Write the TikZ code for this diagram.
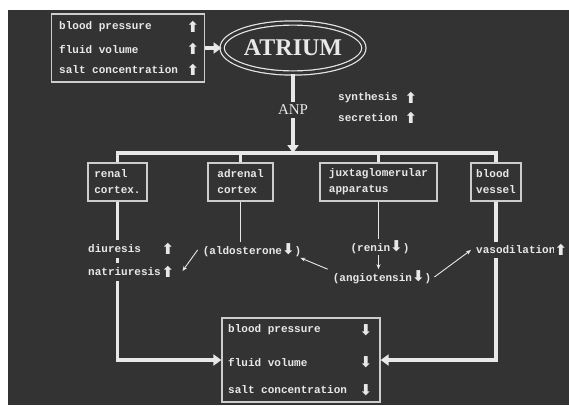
\documentclass[tikz,border=0pt]{standalone}
\usepackage{fontspec}
\setmainfont{Liberation Serif}
\setmonofont{Liberation Mono}
\newfontfamily\arrowfont{DejaVu Sans}
\usetikzlibrary{arrows.meta,shapes.geometric}
\definecolor{slide}{HTML}{333333}
\definecolor{chalk}{HTML}{E8E8E8}
\newcommand{\incr}{{\arrowfont\fontsize{15}{15}\selectfont ⬆}}
\newcommand{\decr}{{\arrowfont\fontsize{15}{15}\selectfont ⬇}}
\tikzset{
  txt/.style={text=chalk,font=\ttfamily\bfseries\fontsize{11}{16}\selectfont,fill=slide,inner sep=1pt},
  organ/.style={draw=chalk!85!slide,line width=1.3pt,text=chalk,align=left,
    font=\ttfamily\bfseries\fontsize{11}{16}\selectfont,minimum height=38},
  flow/.style={draw=chalk,line width=3.5pt},
  link/.style={draw=chalk,line width=0.9pt},
  bigtip/.style={-{Triangle[length=8pt,width=11pt]}},
  smalltip/.style={-{Stealth[length=5pt,width=4pt]}},
}
\begin{document}
\begin{tikzpicture}[x=1pt,y=-1pt]
  \useasboundingbox (0,0) rectangle (569,405);
  \fill[white] (0,0) rectangle (569,405);
  \fill[slide] (8,10) rectangle (569,405);
  % atrium and its inputs
  \node[draw=chalk!85!slide,line width=1.3pt,minimum width=153,minimum height=68] (topbox) at (128,48) {};
  \node[txt,anchor=west] (tbp) at (58,27) {blood pressure};
  \node[txt,anchor=west] (tfv) at (58,49) {fluid volume};
  \node[txt,anchor=west] (tsc) at (58,70) {salt concentration};
  \node[txt] (tbpa) at (193,27) {\incr};
  \node[txt] (tfva) at (193,49) {\incr};
  \node[txt] (tsca) at (193,70) {\incr};
  \node[ellipse,draw=chalk,line width=1.2pt,double=slide,double distance=3pt,
    minimum width=125,minimum height=50,inner sep=1pt,text=chalk,
    font=\bfseries\fontsize{24}{26}\selectfont] (atrium) at (293,48) {ATRIUM};
  \node[text=chalk,font=\fontsize{15}{16}\selectfont] (anp) at (293,110) {ANP};
  \node[txt,anchor=west] (syn) at (337,98) {synthesis};
  \node[txt,anchor=west] (sec) at (337,118) {secretion};
  \node[txt] (syna) at (411,98) {\incr};
  \node[txt] (seca) at (411,118) {\incr};
  % target organs
  \node[organ,minimum width=59] (renal) at (117.5,182) {renal\\cortex.};
  \node[organ,minimum width=65] (adrenal) at (240.5,182) {adrenal\\cortex};
  \node[organ,minimum width=117] (juxta) at (378.5,182) {juxtaglomerular\\apparatus};
  \node[organ,minimum width=50] (vessel) at (496,182) {blood\\vessel};
  \node[draw=chalk!85!slide,line width=1.3pt,minimum width=158,minimum height=84] (botbox) at (301,360) {};
  \coordinate (bar) at (300,153);
  % thick paths
  \draw[flow,bigtip] (topbox.east) -- (atrium.west);
  \draw[flow] (atrium.south) -- (anp.north);
  \draw[flow,bigtip] (anp.south) -- (anp.south |- bar);
  \draw[flow,line join=miter] (renal.north) -- (renal.north |- bar) -- (vessel.north |- bar) -- (vessel.north);
  \draw[flow] (adrenal.north |- bar) -- (adrenal.north);
  \draw[flow] (juxta.north |- bar) -- (juxta.north);
  \draw[flow,bigtip,line join=miter] (renal.south) -- (renal.south |- botbox.west) -- (botbox.west);
  \draw[flow,bigtip,line join=miter] (vessel.south) -- (vessel.south |- botbox.east) -- (botbox.east);
  % effects
  \node[txt,anchor=west,inner ysep=5pt] (diu) at (87,249) {diuresis};
  \node[txt,anchor=west,inner ysep=5pt] (nat) at (87,272) {natriuresis};
  \node[txt] (diua) at (168,249) {\incr};
  \node[txt] (nata) at (168,272) {\incr};
  \node[txt] (aldo) at (252,250) {(aldosterone\decr)};
  \node[txt] (renin) at (380,247) {(renin\decr)};
  \node[txt] (angio) at (382,277) {(angiotensin\decr)};
  \node[txt,anchor=west,inner ysep=4pt] (vaso) at (475,250) {vasodilation};
  \node[txt] (vasoa) at (561,250) {\incr};
  \draw[link] (adrenal.south) -- (adrenal.south |- aldo.north);
  \draw[link] (juxta.south) -- (juxta.south |- renin.north);
  \draw[link,smalltip] (juxta.south |- renin.south) -- (juxta.south |- angio.north);
  \draw[link,smalltip] ([xshift=-4pt]aldo.west) -- ([xshift=7pt,yshift=1pt]nata.east);
  \draw[link,smalltip] ([xshift=-4pt]angio.north west) -- ([xshift=-2pt]aldo.south east);
  \draw[link,smalltip] ([xshift=2pt]angio.east) -- ([xshift=-4pt]vaso.west);
  % result
  \node[txt,anchor=west] (bbp) at (227,330) {blood pressure};
  \node[txt,anchor=west] (bfv) at (227,362) {fluid volume};
  \node[txt,anchor=west] (bsc) at (227,390) {salt concentration};
  \node[txt] (bbpa) at (366,330) {\decr};
  \node[txt] (bfva) at (366,362) {\decr};
  \node[txt] (bsca) at (366,390) {\decr};
\end{tikzpicture}
\end{document}
